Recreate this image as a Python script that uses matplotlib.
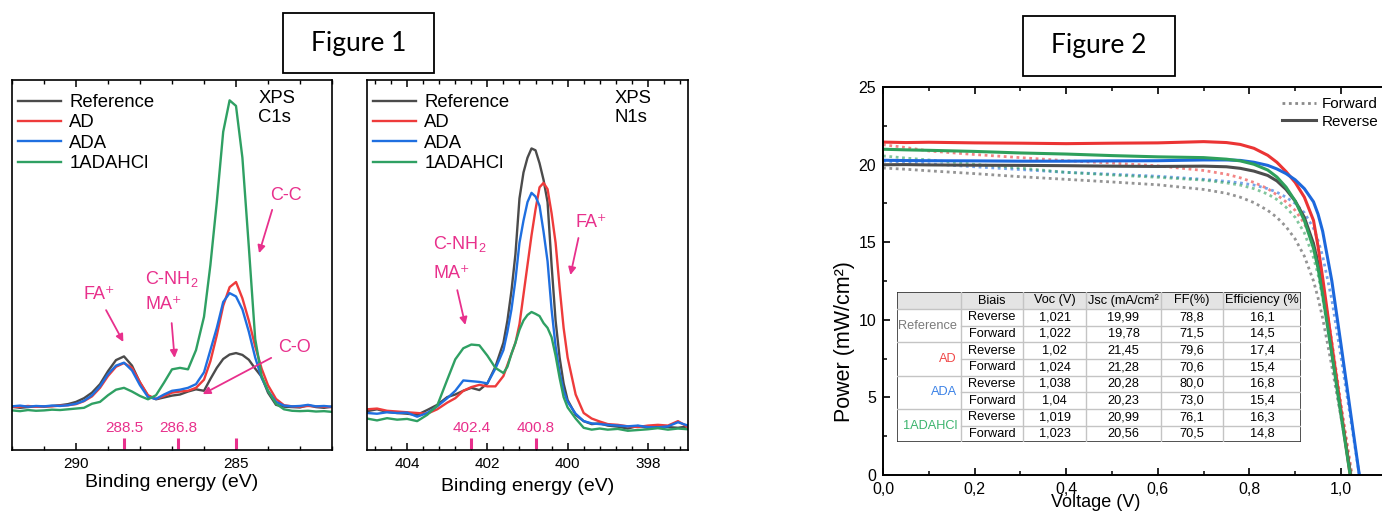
import matplotlib.pyplot as plt
from matplotlib.ticker import MultipleLocator, FuncFormatter
from matplotlib.lines import Line2D
from matplotlib.patches import Rectangle

plt.rcParams['font.family'] = ['Liberation Sans', 'DejaVu Sans']
plt.rcParams['mathtext.fontset'] = 'custom'
plt.rcParams['mathtext.rm'] = 'Liberation Sans'
plt.rcParams['mathtext.it'] = 'Liberation Sans'
plt.rcParams['mathtext.bf'] = 'Liberation Sans'

names = ['Reference', 'AD', 'ADA', '1ADAHCl']

# XPS C1s: binding energy (eV) and intensity (a.u.)
c1s_be = [292.0, 291.75, 291.5, 291.25, 291.0, 290.75, 290.5, 290.25, 290.0, 289.75,
          289.5, 289.25, 289.0, 288.75, 288.5, 288.25, 288.0, 287.75, 287.5, 287.25,
          287.0, 286.75, 286.5, 286.25, 286.0, 285.8, 285.6, 285.4, 285.2, 285.0,
          284.8, 284.6, 284.4, 284.2, 284.0, 283.75, 283.5, 283.25, 283.0, 282.75,
          282.5, 282.25, 282.0]
c1s_ref = [0.117, 0.114, 0.116, 0.118, 0.117, 0.119, 0.121, 0.124, 0.130, 0.140,
           0.155, 0.178, 0.213, 0.243, 0.253, 0.228, 0.182, 0.146, 0.137, 0.142,
           0.147, 0.150, 0.158, 0.164, 0.160, 0.192, 0.222, 0.246, 0.258, 0.262,
           0.257, 0.244, 0.220, 0.198, 0.155, 0.122, 0.117, 0.116, 0.115, 0.121,
           0.116, 0.114, 0.117]
c1s_ad = [0.116, 0.117, 0.119, 0.117, 0.118, 0.118, 0.120, 0.121, 0.124, 0.132,
          0.145, 0.168, 0.200, 0.225, 0.235, 0.222, 0.183, 0.148, 0.138, 0.146,
          0.155, 0.158, 0.160, 0.168, 0.190, 0.240, 0.310, 0.390, 0.440, 0.454,
          0.410, 0.350, 0.280, 0.220, 0.175, 0.138, 0.121, 0.118, 0.117, 0.119,
          0.118, 0.117, 0.116]
c1s_ada = [0.118, 0.120, 0.117, 0.119, 0.118, 0.120, 0.119, 0.121, 0.125, 0.133,
           0.148, 0.172, 0.205, 0.228, 0.236, 0.215, 0.175, 0.143, 0.138, 0.150,
           0.160, 0.163, 0.168, 0.178, 0.210, 0.270, 0.330, 0.400, 0.424, 0.415,
           0.380, 0.320, 0.250, 0.195, 0.160, 0.130, 0.120, 0.118, 0.119, 0.122,
           0.118, 0.119, 0.117]
c1s_hcl = [0.107, 0.105, 0.108, 0.106, 0.107, 0.109, 0.108, 0.110, 0.112, 0.114,
           0.125, 0.130, 0.148, 0.163, 0.168, 0.158, 0.146, 0.137, 0.148, 0.182,
           0.218, 0.222, 0.218, 0.270, 0.360, 0.500, 0.670, 0.860, 0.945, 0.930,
           0.790, 0.550, 0.300, 0.200, 0.160, 0.125, 0.110, 0.106, 0.105, 0.106,
           0.104, 0.105, 0.103]
c1s_marks = [288.5, 286.8, 285.0]
c1s_mark_labels = ['288.5', '286.8', '']

# XPS N1s
n1s_be = [405.0, 404.75, 404.5, 404.25, 404.0, 403.75, 403.5, 403.25, 403.0,
          402.8, 402.6, 402.4, 402.2, 402.0, 401.8, 401.6,
          401.5, 401.4, 401.3, 401.2, 401.1, 401.0, 400.9, 400.8, 400.7, 400.6,
          400.5, 400.4, 400.3, 400.2, 400.1,
          400.0, 399.8, 399.6, 399.4, 399.2, 399.0,
          398.75, 398.5, 398.25, 398.0, 397.75, 397.5, 397.25, 397.0]
n1s_ref = [0.105, 0.110, 0.103, 0.100, 0.098, 0.095, 0.108, 0.122, 0.143,
           0.150, 0.160, 0.168, 0.162, 0.180, 0.225, 0.290,
           0.350, 0.430, 0.530, 0.680, 0.750, 0.790, 0.815, 0.810, 0.775, 0.730,
           0.670, 0.500, 0.350, 0.250, 0.180,
           0.135, 0.095, 0.078, 0.070, 0.072, 0.066,
           0.063, 0.058, 0.065, 0.060, 0.066, 0.062, 0.060, 0.064]
n1s_ad = [0.110, 0.112, 0.106, 0.104, 0.102, 0.100, 0.098, 0.110, 0.128,
          0.140, 0.160, 0.170, 0.176, 0.172, 0.172, 0.200,
          0.230, 0.260, 0.290, 0.340, 0.420, 0.500, 0.580, 0.650, 0.710, 0.722,
          0.705, 0.640, 0.560, 0.440, 0.330,
          0.250, 0.150, 0.100, 0.085, 0.077, 0.070,
          0.068, 0.064, 0.062, 0.066, 0.068, 0.066, 0.078, 0.062]
n1s_ada = [0.100, 0.098, 0.102, 0.100, 0.101, 0.090, 0.100, 0.118, 0.140,
           0.160, 0.188, 0.186, 0.184, 0.180, 0.220, 0.270,
           0.320, 0.380, 0.460, 0.560, 0.620, 0.670, 0.695, 0.685, 0.660, 0.590,
           0.510, 0.380, 0.280, 0.210, 0.160,
           0.130, 0.098, 0.078, 0.072, 0.070, 0.068,
           0.066, 0.064, 0.066, 0.062, 0.061, 0.064, 0.075, 0.066]
n1s_hcl = [0.085, 0.080, 0.086, 0.082, 0.084, 0.078, 0.095, 0.120, 0.190,
           0.245, 0.275, 0.285, 0.283, 0.255, 0.222, 0.208,
           0.225, 0.260, 0.290, 0.325, 0.350, 0.365, 0.373, 0.368, 0.362, 0.343,
           0.330, 0.305, 0.255, 0.195, 0.143,
           0.115, 0.085, 0.060, 0.055, 0.058, 0.055,
           0.057, 0.052, 0.054, 0.056, 0.059, 0.055, 0.058, 0.056]
n1s_marks = [402.4, 400.8]
n1s_mark_labels = ['402.4', '400.8']

# J-V curves (V, mW/cm2)
volt = [0.0, 0.05, 0.1, 0.2, 0.3, 0.4, 0.5, 0.6, 0.7, 0.75, 0.78, 0.81, 0.84,
        0.86, 0.88, 0.9, 0.92, 0.94, 0.95, 0.96, 0.98, 1.0, 1.02, 1.04, 1.06]
ref_rev = [19.99, 20.0, 19.98, 19.96, 19.95, 19.93, 19.9, 19.88, 19.9, 19.86, 19.76, 19.58, 19.3,
           18.95, 18.4, 17.65, 16.6, 14.9, 13.6, 11.9, 8.0, 4.0, 0.2, -3.6, -7.4]
ref_fwd = [19.78, 19.7, 19.6, 19.42, 19.22, 19.05, 18.88, 18.7, 18.4, 18.15, 17.9, 17.55, 17.05,
           16.6, 16.0, 15.2, 14.1, 12.5, 11.4, 10.1, 7.0, 3.7, 0.3, -3.0, -6.3]
ad_rev = [21.45, 21.42, 21.44, 21.40, 21.38, 21.35, 21.38, 21.40, 21.48, 21.42, 21.3, 21.05, 20.6,
          20.15, 19.55, 18.85, 17.9, 16.4, 14.7, 12.7, 8.4, 4.2, 0.0, -4.0, -8.0]
ad_fwd = [21.28, 21.1, 20.88, 20.65, 20.45, 20.25, 20.1, 19.92, 19.62, 19.38, 19.15, 18.85, 18.45,
          18.05, 17.6, 17.05, 16.2, 14.9, 13.8, 12.3, 8.6, 4.6, 0.8, -3.0, -6.8]
ada_rev = [20.28, 20.26, 20.25, 20.24, 20.22, 20.22, 20.24, 20.25, 20.3, 20.3, 20.27, 20.15, 19.95,
           19.72, 19.42, 19.02, 18.45, 17.6, 16.8, 15.7, 12.5, 8.4, 4.2, 0.0, -4.0]
ada_fwd = [20.23, 20.15, 20.05, 19.86, 19.68, 19.5, 19.38, 19.25, 19.05, 18.92, 18.82, 18.68, 18.45,
           18.22, 17.9, 17.5, 16.9, 15.9, 15.1, 14.1, 11.3, 7.6, 3.8, 0.0, -4.0]
hcl_rev = [20.99, 20.95, 20.92, 20.85, 20.75, 20.68, 20.58, 20.5, 20.45, 20.35, 20.24, 20.02, 19.65,
           19.2, 18.55, 17.65, 16.4, 14.6, 13.3, 11.6, 7.8, 3.9, 0.0, -3.8, -7.6]
hcl_fwd = [20.56, 20.42, 20.3, 20.02, 19.78, 19.5, 19.33, 19.18, 19.0, 18.82, 18.68, 18.45, 18.1,
           17.75, 17.25, 16.6, 15.6, 14.0, 12.9, 11.4, 7.8, 4.0, 0.5, -3.0, -6.5]

# table of photovoltaic parameters
table_header = ['', 'Biais', 'Voc (V)', 'Jsc (mA/cm²', 'FF(%)', 'Efficiency (%']
table_bias = ['Reverse', 'Forward'] * 4
table_voc = [1.021, 1.022, 1.02, 1.024, 1.038, 1.04, 1.019, 1.023]
table_jsc = [19.99, 19.78, 21.45, 21.28, 20.28, 20.23, 20.99, 20.56]
table_ff = [78.8, 71.5, 79.6, 70.6, 80.0, 73.0, 76.1, 70.5]
table_eff = [16.1, 14.5, 17.4, 15.4, 16.8, 15.4, 16.3, 14.8]

pink = '#E8308C'
xps_colors = ['#4B4B4B', '#EE3B3B', '#1F6FE0', '#2FA063']
jv_colors = ['#4D4D4D', '#EB3434', '#1C68DC', '#2EA05C']
tab_colors = ['#7A7A7A', '#F04848', '#3C82E6', '#3CB46E']

W, H = 1382, 512
fig = plt.figure(figsize=(W / 100, H / 100), dpi=100)


def box(x0, y0, x1, y1):
    # pixel box, measured from the top left corner of the picture
    return [x0 / W, 1 - y1 / H, (x1 - x0) / W, (y1 - y0) / H]


def arrow(ax, tail, head):
    ax.annotate('', xy=head, xytext=tail,
                arrowprops=dict(arrowstyle='-|>', color=pink, lw=1.3,
                                mutation_scale=11, shrinkA=0, shrinkB=0))


def xps_panel(rect, be, series, xlim, major, core, marks, mark_labels, labelpad):
    ax = fig.add_axes(rect)
    for y, c, n in zip(series, xps_colors, names):
        ax.plot(be, y, color=c, lw=1.7, label=n)
    ax.set_xlim(*xlim)
    ax.set_ylim(0, 1)
    ax.set_yticks([])
    ax.xaxis.set_major_locator(MultipleLocator(major))
    ax.xaxis.set_minor_locator(MultipleLocator(major / 5))
    ax.tick_params(axis='x', which='both', direction='in', top=True, labelsize=11, pad=5)
    ax.tick_params(axis='x', which='major', length=5, width=1.1)
    ax.tick_params(axis='x', which='minor', length=3, width=1.0)
    for s in ax.spines.values():
        s.set_linewidth(1.2)
    ax.set_xlabel('Binding energy (eV)', fontsize=14, labelpad=labelpad)
    ax.legend(loc='upper left', bbox_to_anchor=(0.02, 0.962), frameon=False, fontsize=13.3,
              handlelength=2.3, handletextpad=0.45, labelspacing=0.18,
              borderpad=0, borderaxespad=0)
    ax.text(0.77, 0.972, 'XPS\n' + core, transform=ax.transAxes, fontsize=13.3,
            ha='left', va='top', linespacing=1.15)
    for m, lab in zip(marks, mark_labels):
        ax.plot([m, m], [0.003, 0.032], color=pink, lw=2.2, solid_capstyle='butt')
        if lab:
            ax.text(m, 0.06, lab, color=pink, fontsize=11, ha='center', va='center')
    return ax


fa = 'FA\u207a'
ma = 'MA\u207a'

ax1 = xps_panel(box(12, 80, 332, 450), c1s_be, [c1s_ref, c1s_ad, c1s_ada, c1s_hcl],
                (292, 282), 5, 'C1s', c1s_marks, c1s_mark_labels, 2)
ax1.text(283.45, 0.689, 'C-C', color=pink, fontsize=13, ha='center', va='center')
arrow(ax1, (283.87, 0.649), (284.28, 0.532))
ax1.text(287.83, 0.462, 'C-NH$_2$', color=pink, fontsize=13, ha='left', va='center')
ax1.text(287.83, 0.392, ma, color=pink, fontsize=13, ha='left', va='center')
arrow(ax1, (287.01, 0.343), (286.92, 0.249))
ax1.text(289.78, 0.419, fa, color=pink, fontsize=13, ha='left', va='center')
arrow(ax1, (289.06, 0.378), (288.52, 0.292))
ax1.text(283.68, 0.276, 'C-O', color=pink, fontsize=13, ha='left', va='center')
arrow(ax1, (283.9, 0.249), (286.04, 0.151))

ax2 = xps_panel(box(367, 80, 688, 450), n1s_be, [n1s_ref, n1s_ad, n1s_ada, n1s_hcl],
                (405, 397), 2, 'N1s', n1s_marks, n1s_mark_labels, 5)
ax2.text(399.8, 0.614, fa, color=pink, fontsize=13, ha='left', va='center')
arrow(ax2, (399.73, 0.573), (399.93, 0.473))
ax2.text(403.35, 0.557, 'C-NH$_2$', color=pink, fontsize=13, ha='left', va='center')
ax2.text(403.35, 0.478, ma, color=pink, fontsize=13, ha='left', va='center')
arrow(ax2, (402.75, 0.432), (402.55, 0.338))

# Figure 2 : J-V curves
ax3 = fig.add_axes(box(883, 87, 883 + 1.1 * 458, 475))
fwd = [ref_fwd, ad_fwd, ada_fwd, hcl_fwd]
rev = [ref_rev, ad_rev, ada_rev, hcl_rev]
for y, c in zip(fwd, jv_colors):
    ax3.plot(volt, y, color=c, lw=2.0, ls=(0, (1, 1.3)), alpha=0.6)
for y, c in zip(rev, jv_colors):
    ax3.plot(volt, y, color=c, lw=2.2)
ax3.set_xlim(0, 1.1)
ax3.set_ylim(0, 25)
ax3.xaxis.set_major_locator(MultipleLocator(0.2))
ax3.xaxis.set_minor_locator(MultipleLocator(0.1))
ax3.yaxis.set_major_locator(MultipleLocator(5))
ax3.yaxis.set_minor_locator(MultipleLocator(2.5))
ax3.xaxis.set_major_formatter(FuncFormatter(lambda x, p: f'{x:.1f}'.replace('.', ',')))
ax3.tick_params(which='both', direction='in', top=True, labelsize=11.5)
ax3.tick_params(which='major', length=5, width=1.2, pad=5)
ax3.tick_params(which='minor', length=3, width=1.1)
for s in ax3.spines.values():
    s.set_linewidth(1.4)
ax3.set_xlabel('Voltage (V)', fontsize=13)
ax3.xaxis.set_label_coords(0.423, -0.049)
ax3.set_ylabel('Power (mW/cm²)', fontsize=15.5)
ax3.yaxis.set_label_coords(-0.056, 0.345)
handles = [Line2D([], [], color='#8A8A8A', lw=2.0, ls=(0, (1, 1.3))),
           Line2D([], [], color='#4D4D4D', lw=2.2)]
ax3.legend(handles, ['Forward', 'Reverse'], loc='upper left',
           bbox_to_anchor=(1282 / W, 1 - 97 / H), bbox_transform=fig.transFigure,
           frameon=False, fontsize=11, handlelength=2.2, handletextpad=0.4,
           labelspacing=0.25, borderpad=0, borderaxespad=0)

# table drawn in its own axes, in pixel units
tx0, ty0, tx1, ty1 = 897, 292, 1301, 442
tab = fig.add_axes(box(tx0, ty0, tx1, ty1))
tab.set_xlim(0, tx1 - tx0)
tab.set_ylim(ty1 - ty0, 0)
tab.axis('off')
cols = [0, 64, 126, 189, 264, 326, 404]
rows = [0, 17, 34, 50, 67, 84, 100, 117, 134, 150]
grid = '#C4C4C4'
tab.add_patch(Rectangle((0, 0), cols[-1], rows[1], color='#E4E4E4', lw=0))
for c in cols[1:-1]:
    tab.plot([c, c], [0, rows[-1]], color=grid, lw=1)
for i, r in enumerate(rows[1:-1]):
    start = 0 if i % 2 == 0 else cols[1]
    tab.plot([start, cols[-1]], [r, r], color=grid, lw=1)
tab.add_patch(Rectangle((0, 0), cols[-1], rows[-1], fill=False, ec='#333333', lw=1.2))
for j, head in enumerate(table_header):
    tab.text((cols[j] + cols[j + 1]) / 2, (rows[0] + rows[1]) / 2, head,
             ha='center', va='center', fontsize=9.2)
for g, (name, col) in enumerate(zip(names, tab_colors)):
    tab.text(cols[1] - 4, rows[1 + 2 * g + 1], name, color=col,
             ha='right', va='center', fontsize=9.2)
for i in range(8):
    cells = [table_bias[i], str(table_voc[i]).replace('.', ','),
             f'{table_jsc[i]:.2f}'.replace('.', ','), f'{table_ff[i]:.1f}'.replace('.', ','),
             f'{table_eff[i]:.1f}'.replace('.', ',')]
    yc = (rows[i + 1] + rows[i + 2]) / 2
    for j, txt in enumerate(cells):
        tab.text((cols[j + 1] + cols[j + 2]) / 2, yc, txt, ha='center', va='center', fontsize=9.2)

# figure title boxes
for (x0, y0, x1, y1), title in [((283, 13, 434, 73), 'Figure 1'), ((1023, 16, 1175, 76), 'Figure 2')]:
    fig.patches.append(Rectangle((x0 / W, 1 - y1 / H), (x1 - x0) / W, (y1 - y0) / H,
                                 transform=fig.transFigure, fill=False, ec='black', lw=1.3))
    fig.text((x0 + x1) / 2 / W, 1 - (y0 + y1) / 2 / H, title, family='Lato',
             fontsize=19, ha='center', va='center')

fig.savefig('out.png', dpi=100)
